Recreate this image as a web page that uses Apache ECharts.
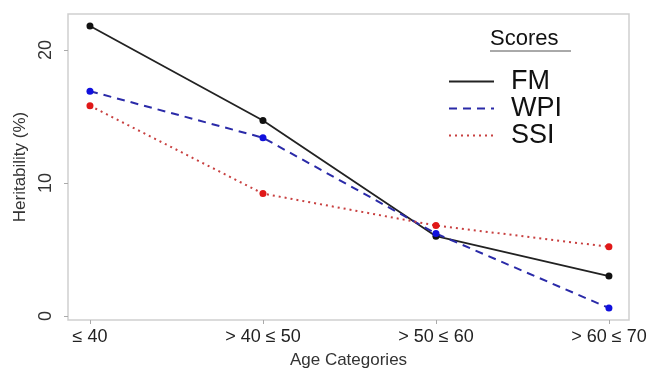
<!DOCTYPE html>
<html>
<head>
<meta charset="utf-8">
<script src="https://cdn.jsdelivr.net/npm/echarts@6/dist/echarts.min.js"></script>
<style>
  html, body { margin: 0; padding: 0; background: #fff; }
  #chart { width: 653px; height: 370px; }
</style>
</head>
<body>
<div id="chart"></div>
<script>
  var categories = ['≤ 40', '> 40 ≤ 50', '> 50 ≤ 60', '> 60 ≤ 70'];
  var fm = [21.8, 14.7, 6.0, 3.0];
  var wpi = [16.9, 13.4, 6.2, 0.6];
  var ssi = [15.8, 9.2, 6.8, 5.2];
  var yTicks = [0, 10, 20];

  function pairs(vals) {
    return vals.map(function(v, i) { return [i, v]; });
  }

  var font = 'Liberation Sans, Arial, sans-serif';
  var chart = echarts.init(document.getElementById('chart'));
  var option = {
    animation: false,
    textStyle: { fontFamily: font },
    grid: {
      left: 68, top: 14, right: 24, bottom: 50,
      outerBoundsMode: 'none',
      containLabel: false,
      show: true, borderColor: '#cfcfcf', borderWidth: 1.5
    },
    legend: {
      orient: 'vertical',
      left: 443,
      top: 63,
      itemWidth: 45,
      itemHeight: 14,
      itemGap: 0,
      itemStyle: { opacity: 0 },
      textStyle: { fontSize: 27, lineHeight: 25, color: '#111', padding: [0, 0, 0, 12] },
      data: ['FM', 'WPI', 'SSI']
    },
    graphic: [
      { type: 'text', left: 490, top: 28, style: { text: 'Scores', font: '22px ' + font, fill: '#111' } },
      { type: 'line', shape: { x1: 490, y1: 51, x2: 571, y2: 51 }, style: { stroke: '#555', lineWidth: 1 } }
    ],
    xAxis: {
      type: 'value',
      min: -0.127,
      max: 3.116,
      name: 'Age Categories',
      nameLocation: 'middle',
      nameGap: 32,
      nameTextStyle: { fontSize: 17, color: '#333' },
      splitLine: { show: false },
      axisLine: { show: false, onZero: false },
      axisTick: { customValues: [0, 1, 2, 3], length: 4, lineStyle: { color: '#aaa' } },
      axisLabel: {
        customValues: [0, 1, 2, 3],
        fontSize: 18, color: '#222', margin: 8,
        formatter: function(v) { return categories[Math.round(v)]; }
      }
    },
    yAxis: {
      type: 'value',
      min: -0.3,
      max: 22.7,
      name: 'Heritability (%)',
      nameLocation: 'middle',
      nameGap: 37,
      nameTextStyle: { fontSize: 17, color: '#333' },
      splitLine: { show: false },
      axisLine: { show: false, onZero: false },
      axisTick: { customValues: yTicks, length: 4, lineStyle: { color: '#aaa' } },
      axisLabel: { customValues: yTicks, fontSize: 18, color: '#333', rotate: 90, margin: 13 }
    },
    series: [{
      name: 'FM', type: 'line', data: pairs(fm),
      symbol: 'circle', symbolSize: 7,
      itemStyle: { color: '#111' },
      lineStyle: { color: '#222', width: 1.8, type: 'solid' }
    }, {
      name: 'WPI', type: 'line', data: pairs(wpi),
      symbol: 'circle', symbolSize: 7,
      itemStyle: { color: '#1010dd' },
      lineStyle: { color: '#2a2aa8', width: 2, type: [8, 6] }
    }, {
      name: 'SSI', type: 'line', data: pairs(ssi),
      symbol: 'circle', symbolSize: 7,
      itemStyle: { color: '#e01818' },
      lineStyle: { color: '#c84040', width: 2, type: [2, 4] }
    }]
  };
  chart.setOption(option);
</script>
</body>
</html>
